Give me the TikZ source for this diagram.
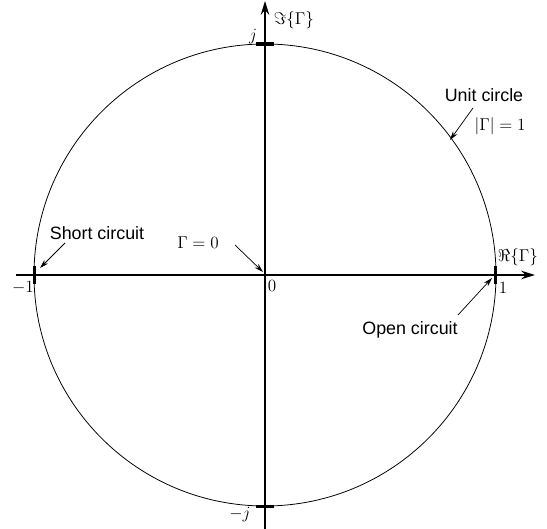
\documentclass[tikz,border=0pt]{standalone}
\usepackage{fontspec}
\newfontfamily\labelfont{Liberation Sans}
\usetikzlibrary{arrows.meta}
\tikzset{
  axis/.style={-{Stealth[length=3.4mm,width=2.1mm,inset=1.1mm]},line width=1.1pt},
  ring/.style={line width=0.55pt},
  tickmark/.style={line width=2.6pt},
  callout/.style={-{Stealth[length=2.2mm,width=1.3mm]},line width=0.5pt},
  tag/.style={font=\labelfont\fontsize{12.5}{14}\selectfont,inner sep=1pt},
  val/.style={font=\fontsize{11.5}{13}\selectfont,inner sep=1pt},
}
\begin{document}
\begin{tikzpicture}[x=0.7pt,y=-0.7pt]
  \useasboundingbox (0,0) rectangle (547,529);
  % centre, axis ends, points on the unit circle
  \coordinate (O) at (265,275);
  \coordinate (west) at (16,275);
  \coordinate (east) at (535,275);
  \coordinate (south) at (265,529);
  \coordinate (north) at (265,1);
  \coordinate (m1) at (34.5,275);
  \coordinate (p1) at (495.5,275);
  \coordinate (pj) at (265,44);
  \coordinate (mj) at (265,506.5);

  \draw[ring] (O) circle (231);
  \draw[axis] (west) -- (east);
  \draw[axis] (south) -- (north);

  % ticks
  \draw[tickmark] ([yshift=6.3pt]m1) -- ([yshift=-6.3pt]m1);
  \draw[tickmark] ([yshift=6.3pt]p1) -- ([yshift=-6.3pt]p1);
  \draw[tickmark] ([xshift=-6.3pt]pj) -- ([xshift=6.3pt]pj);
  \draw[tickmark] ([xshift=-6.3pt]mj) -- ([xshift=6.3pt]mj);

  % axis labels
  \node[val] (re) at (518,257) {$\Re\{\Gamma\}$};
  \node[val] (im) at (294,20) {$\Im\{\Gamma\}$};
  \node[val] (one) at (503,288) {$1$};
  \node[val] (mone) at (23,288) {$-1$};
  \node[val] (zero) at (272,286) {$0$};
  \node[val] (jj) at (253,37) {$j$};
  \node[val] (mjj) at (240,515) {$-j$};

  % callouts
  \node[tag] (sc) at (97,233) {Short circuit};
  \node[tag] (oc) at (410,330) {Open circuit};
  \node[tag] (uc) at (484,95) {Unit circle};
  \node[val] (ug) at (500,126) {$|\Gamma| = 1$};
  \node[val] (g0) at (198,243) {$\Gamma = 0$};
  \coordinate (sc tail) at (65,243);
  \coordinate (sc tip) at (40,268);
  \coordinate (oc tail) at (458,315);
  \coordinate (oc tip) at (492,278);
  \coordinate (uc tail) at (473,108);
  \coordinate (uc tip) at (450,140);
  \coordinate (g0 tail) at (235,245);
  \coordinate (g0 tip) at (263,272);
  \draw[callout] (sc tail) -- (sc tip);
  \draw[callout] (oc tail) -- (oc tip);
  \draw[callout] (uc tail) -- (uc tip);
  \draw[callout] (g0 tail) -- (g0 tip);
\end{tikzpicture}
\end{document}
